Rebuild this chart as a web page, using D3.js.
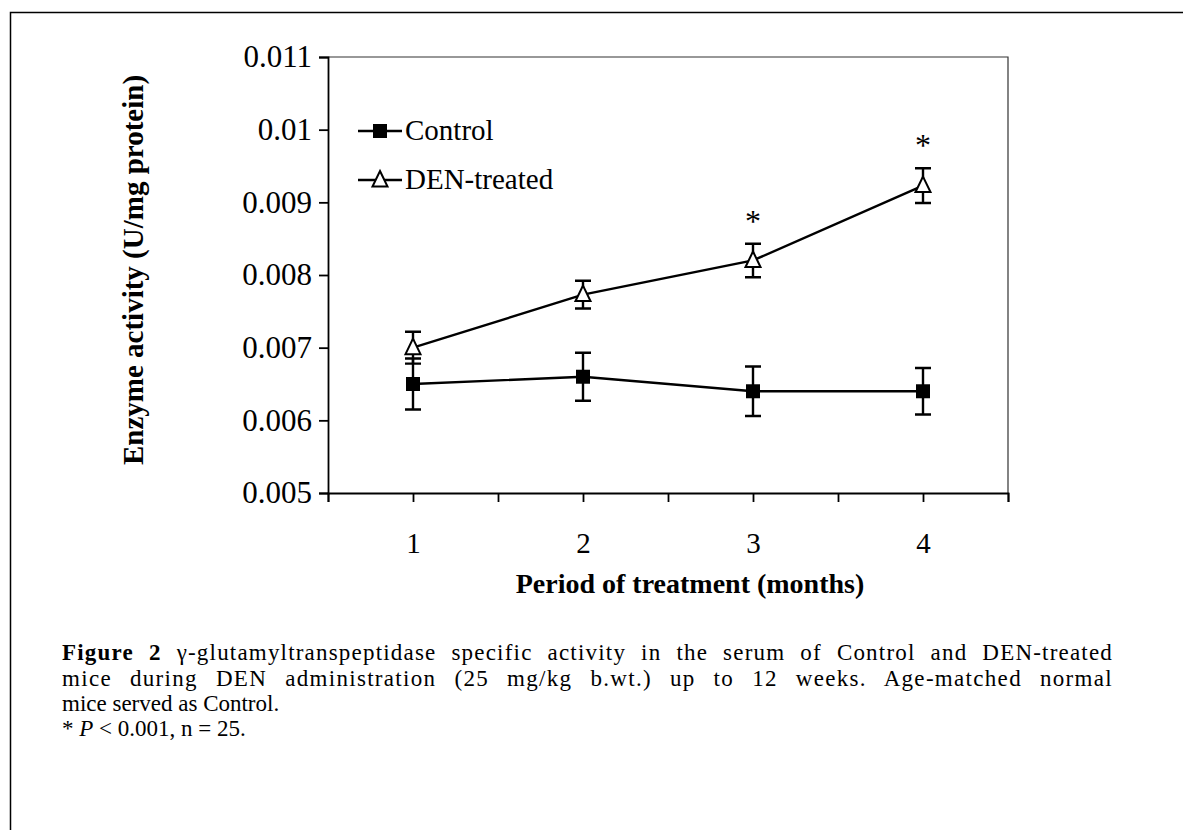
<!DOCTYPE html>
<html>
<head>
<meta charset="utf-8">
<script src="https://cdn.jsdelivr.net/npm/d3@7"></script>
<style>
  body { margin: 0; background: #fff; }
  svg { display: block; font-family: "Liberation Serif", "DejaVu Serif", serif; }
</style>
</head>
<body>
<div id="chart"></div>
<script>
const categories = [1, 2, 3, 4]
const controlMean = [0.0065, 0.0066, 0.0064, 0.0064]
const controlErr = [0.00035, 0.00033, 0.00034, 0.00032]
const denMean = [0.0070, 0.00773, 0.0082, 0.00923]
const denErr = [0.00022, 0.00019, 0.00023, 0.00024]
const significant = [false, false, true, true]
const yTicks = [0.005, 0.006, 0.007, 0.008, 0.009, 0.01, 0.011]
const yTickLabels = ['0.005', '0.006', '0.007', '0.008', '0.009', '0.01', '0.011']
const xTicks = [0.5, 1, 1.5, 2, 2.5, 3, 3.5, 4, 4.5]

const width = 1183, height = 830
const plot = {left: 328, right: 1008, top: 57, bottom: 493}

const svg = d3.select('#chart').append('svg')
  .attr('width', width)
  .attr('height', height)

// page frame (left + top edge of the scanned box)
svg.append('path')
  .attr('d', `M10.5,${height} V12.5 H${width}`)
  .attr('fill', 'none')
  .attr('stroke', '#000')
  .attr('stroke-width', 1.5)

const x = d3.scaleLinear().domain([0.5, 4.5]).range([plot.left, plot.right])
const y = d3.scaleLinear().domain([0.005, 0.011]).range([plot.bottom, plot.top])

// top and right border of the plot area
svg.append('path')
  .attr('d', `M${plot.left},${plot.top} H${plot.right} V${plot.bottom}`)
  .attr('fill', 'none')
  .attr('stroke', '#333')
  .attr('stroke-width', 1.2)

const yAxis = svg.append('g')
  .attr('transform', `translate(${plot.left},0)`)
  .call(d3.axisLeft(y)
    .tickValues(yTicks)
    .tickFormat((d, i) => yTickLabels[i])
    .tickSizeOuter(0)
    .tickSize(9)
    .tickPadding(7))
yAxis.selectAll('text')
  .attr('font-family', '"Liberation Serif", serif')
  .attr('font-size', 31)
  .attr('fill', '#000')

const xAxis = svg.append('g')
  .attr('transform', `translate(0,${plot.bottom})`)
  .call(d3.axisBottom(x)
    .tickValues(xTicks)
    .tickFormat(d => Number.isInteger(d) ? d : '')
    .tickSizeOuter(0)
    .tickSize(9)
    .tickPadding(30))
xAxis.selectAll('text')
  .attr('font-family', '"Liberation Serif", serif')
  .attr('font-size', 29)
  .attr('fill', '#000')

svg.selectAll('.domain, .tick line')
  .attr('stroke', '#000')
  .attr('stroke-width', 1.8)

// axis titles
svg.append('text')
  .attr('transform', `translate(143,270) rotate(-90)`)
  .attr('text-anchor', 'middle')
  .attr('font-weight', 'bold')
  .attr('font-size', 29)
  .text('Enzyme activity (U/mg protein)')

svg.append('text')
  .attr('x', 690)
  .attr('y', 593)
  .attr('text-anchor', 'middle')
  .attr('font-weight', 'bold')
  .attr('font-size', 28)
  .text('Period of treatment (months)')

const series = [
  {name: 'Control', mean: controlMean, err: controlErr, shape: 'square'},
  {name: 'DEN-treated', mean: denMean, err: denErr, shape: 'triangle'},
]

const line = d3.line()
  .x((d, i) => x(categories[i]))
  .y(d => y(d))

const drawMarker = (g, shape) => {
  if (shape === 'square') {
    g.append('rect')
      .attr('x', -7).attr('y', -7)
      .attr('width', 14).attr('height', 14)
      .attr('fill', '#000')
  } else {
    g.append('path')
      .attr('d', 'M0,-9 L7.5,6.5 L-7.5,6.5 Z')
      .attr('fill', '#fff')
      .attr('stroke', '#000')
      .attr('stroke-width', 2)
  }
}

series.forEach(s => {
  const g = svg.append('g')

  // error bars
  s.mean.forEach((m, i) => {
    const cx = x(categories[i])
    const top = y(m + s.err[i]), bottom = y(m - s.err[i])
    g.append('path')
      .attr('d', `M${cx},${top} V${bottom} M${cx - 8},${top} H${cx + 8} M${cx - 8},${bottom} H${cx + 8}`)
      .attr('fill', 'none')
      .attr('stroke', '#000')
      .attr('stroke-width', 2.4)
  })

  g.append('path')
    .datum(s.mean)
    .attr('d', line)
    .attr('fill', 'none')
    .attr('stroke', '#000')
    .attr('stroke-width', 2.4)

  s.mean.forEach((m, i) => {
    const mg = g.append('g').attr('transform', `translate(${x(categories[i])},${y(m)})`)
    drawMarker(mg, s.shape)
  })
})

// significance stars
denMean.forEach((m, i) => {
  if (!significant[i]) return
  svg.append('text')
    .attr('x', x(categories[i]))
    .attr('y', y(m + denErr[i]) - 12)
    .attr('text-anchor', 'middle')
    .attr('font-size', 32)
    .text('*')
})

// legend
const legend = svg.append('g').attr('transform', 'translate(358,0)')
series.forEach((s, i) => {
  const ly = 131 + i * 49
  legend.append('line')
    .attr('x1', 0).attr('x2', 44)
    .attr('y1', ly).attr('y2', ly)
    .attr('stroke', '#000')
    .attr('stroke-width', 2.4)
  drawMarker(legend.append('g').attr('transform', `translate(22,${ly})`), s.shape)
  legend.append('text')
    .attr('x', 47)
    .attr('y', ly + 9)
    .attr('font-size', 29)
    .text(s.name)
})

// caption; first two lines are justified, the slack split between letters and words
const caption = svg.append('g').attr('font-size', 23)
const justify = (t, w, letterShare) => {
  const len = t.node().getComputedTextLength()
  const str = t.text()
  const gaps = (str.match(/ /g) || []).length
  if (!gaps || len >= w) return
  const ls = (w - len) * letterShare / str.length
  t.attr('letter-spacing', ls)
  const len2 = t.node().getComputedTextLength()
  t.attr('word-spacing', Math.max(0, (w - len2) / gaps))
}
const cap1 = caption.append('text').attr('x', 62).attr('y', 660)
cap1.append('tspan').attr('font-weight', 'bold').text('Figure 2')
cap1.append('tspan').text(' γ-glutamyltranspeptidase specific activity in the serum of Control and DEN-treated')
justify(cap1, 1051, 0.55)

const cap2 = caption.append('text').attr('x', 62).attr('y', 686)
  .text('mice during DEN administration (25 mg/kg b.wt.) up to 12 weeks. Age-matched normal')
justify(cap2, 1051, 0.45)

caption.append('text').attr('x', 62).attr('y', 711)
  .text('mice served as Control.')

const cap4 = caption.append('text').attr('x', 62).attr('y', 736)
cap4.append('tspan').text('* ')
cap4.append('tspan').attr('font-style', 'italic').text('P')
cap4.append('tspan').text(' < 0.001, n = 25.')
</script>
</body>
</html>
